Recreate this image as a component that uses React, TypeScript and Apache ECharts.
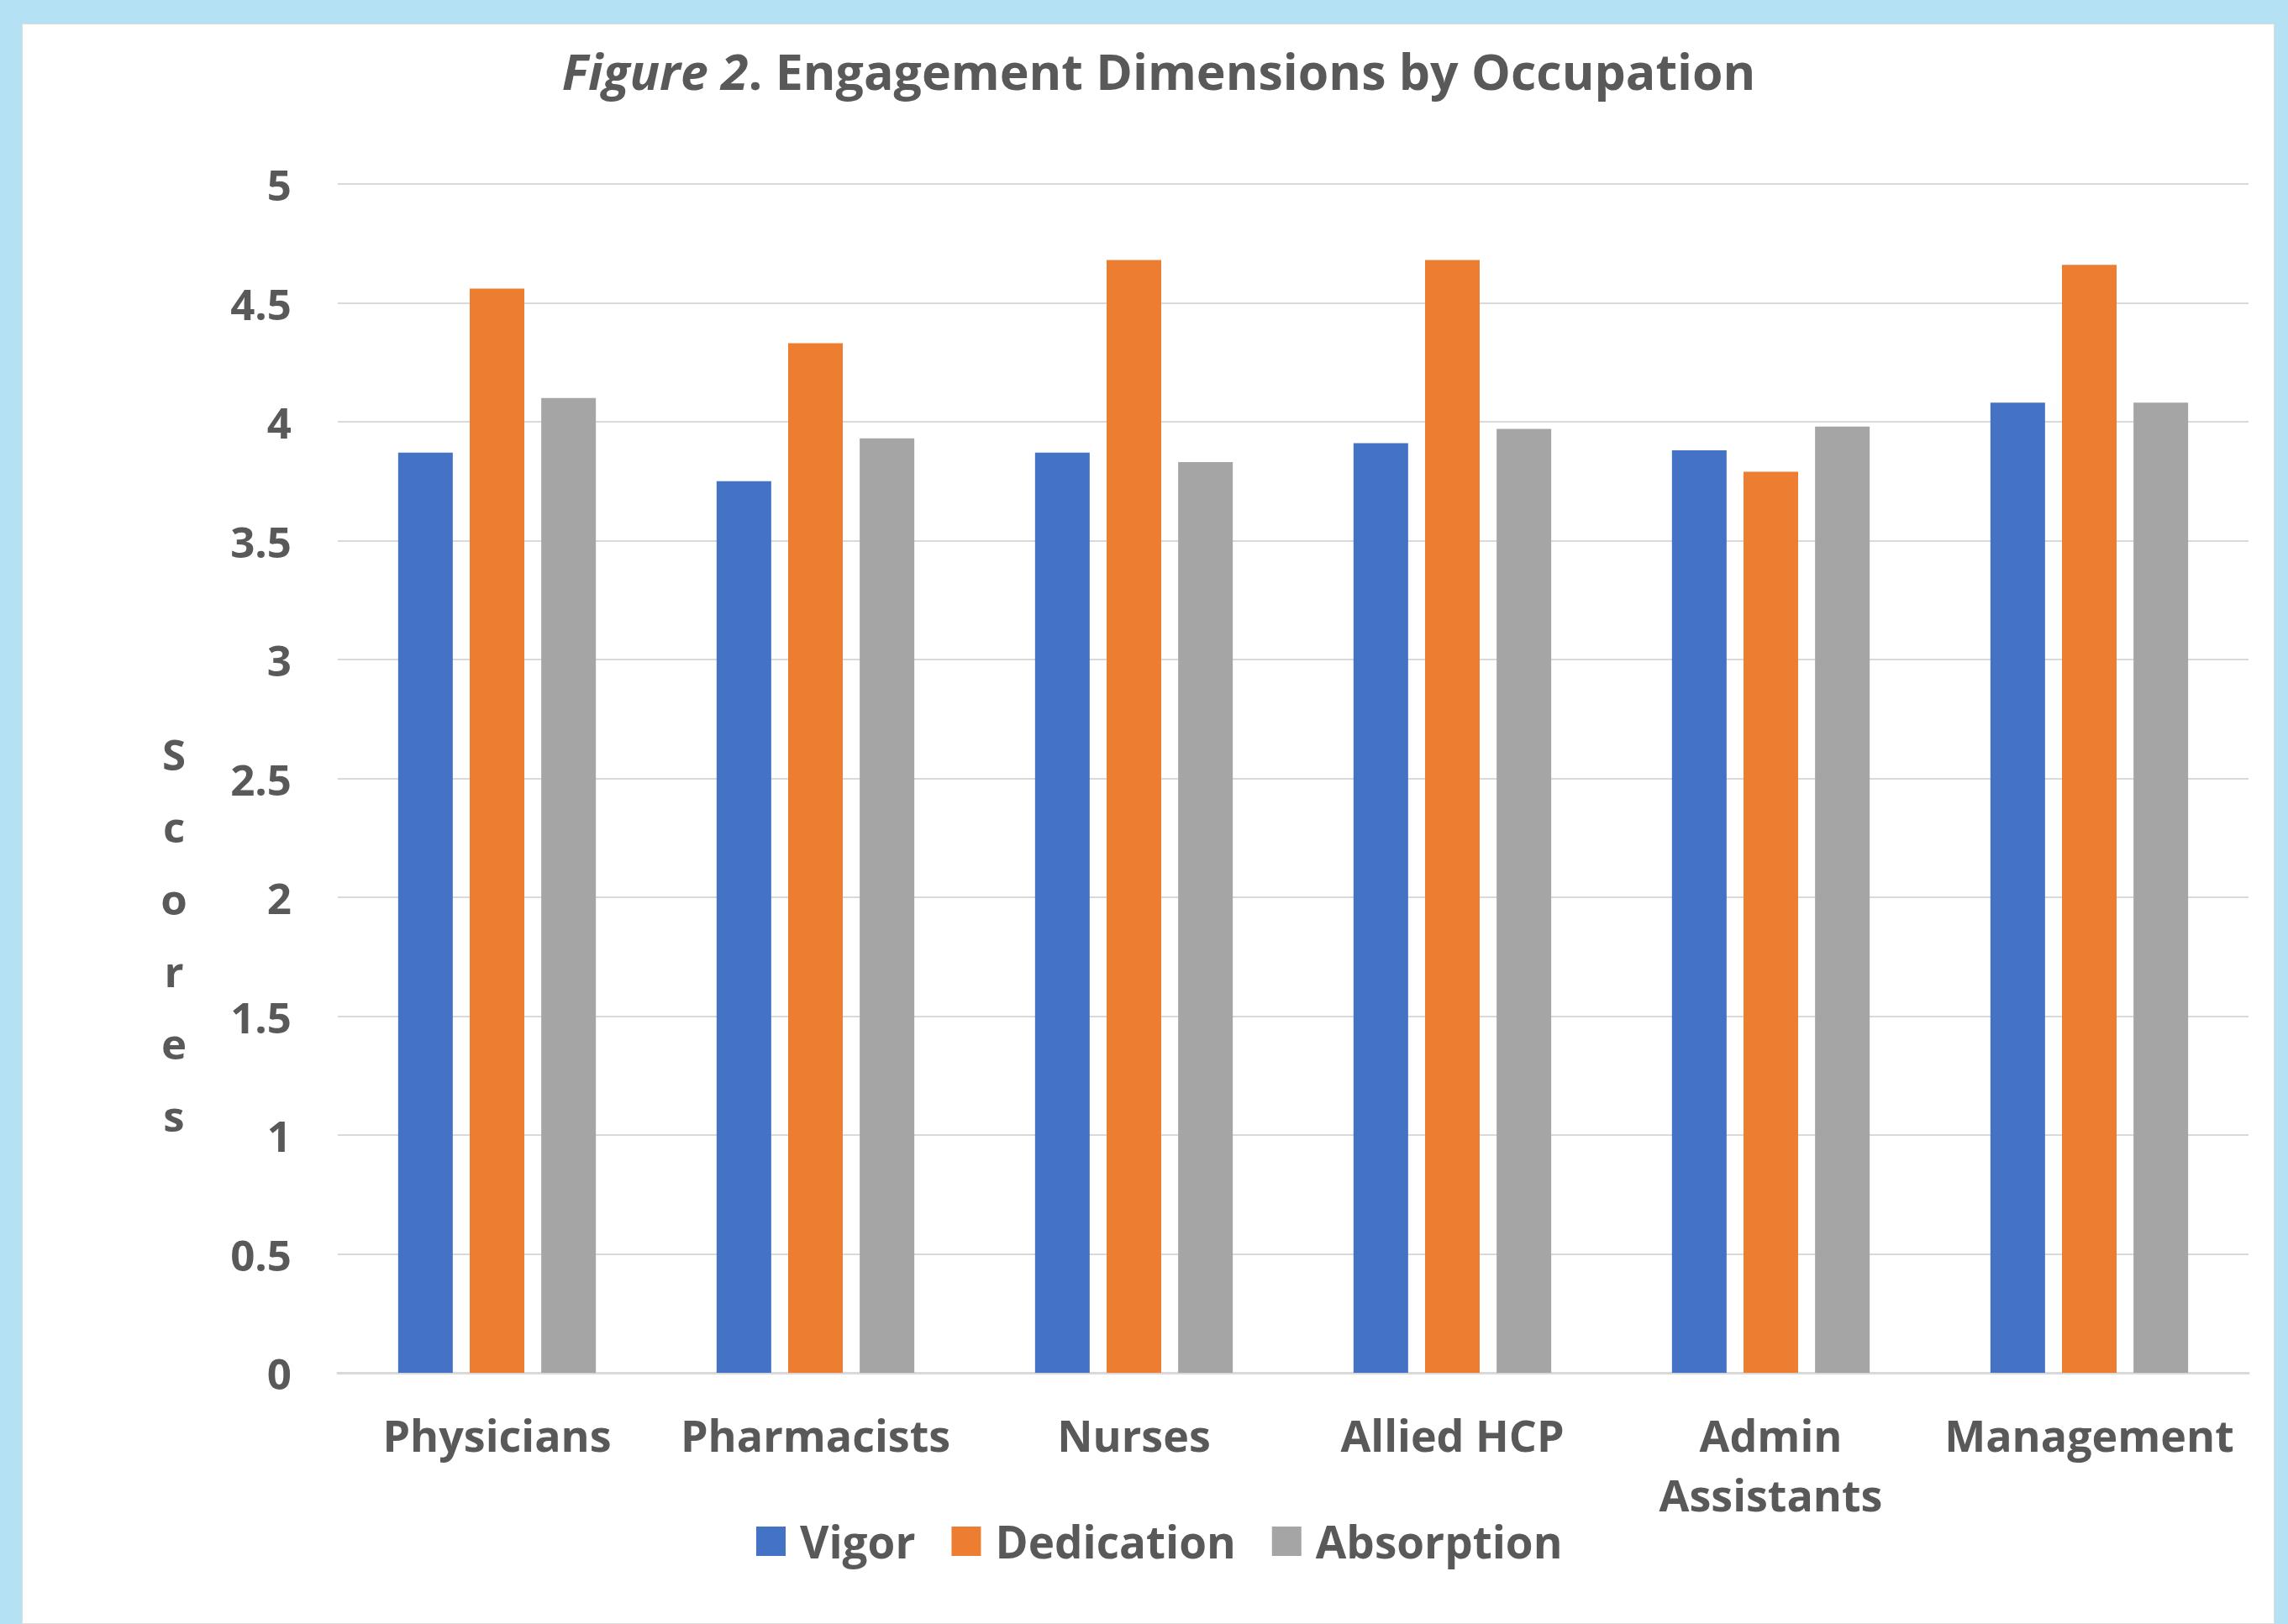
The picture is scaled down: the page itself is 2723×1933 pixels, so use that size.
import React, { useEffect, useRef } from "react";
import * as echarts from "echarts";

const categories = ["Physicians", "Pharmacists", "Nurses", "Allied HCP", "Admin Assistants", "Management"];
const seriesNames = ["Vigor", "Dedication", "Absorption"];
const vigor = [3.87, 3.75, 3.87, 3.91, 3.88, 4.08];
const dedication = [4.56, 4.33, 4.68, 4.68, 3.79, 4.66];
const absorption = [4.1, 3.93, 3.83, 3.97, 3.98, 4.08];
const colors = ["#4472C4", "#ED7D31", "#A5A5A5"];
const yTicks = { min: 0, max: 5, interval: 0.5 };

const FONT = "'Open Sans', 'Noto Sans', sans-serif";
const TEXT = "#595959";

export default function App() {
  const ref = useRef<HTMLDivElement>(null);
  useEffect(() => {
    document.body.style.margin = "0";
    if (!ref.current) return;
    const chart = echarts.init(ref.current, null, { renderer: "svg" });
    const values = [vigor, dedication, absorption];
    chart.setOption({
      animation: false,
      backgroundColor: "transparent",
      textStyle: { fontFamily: FONT },
      title: {
        text: "{i|Figure 2}{b|. Engagement Dimensions by Occupation}",
        left: 1374,
        textAlign: "center",
        top: 44,
        textStyle: {
          rich: {
            i: { fontFamily: FONT, fontSize: 59, fontStyle: "italic", fontWeight: "bold", color: TEXT, lineHeight: 70 },
            b: { fontFamily: FONT, fontSize: 59, fontWeight: "bold", color: TEXT, lineHeight: 70 },
          },
        },
      },
      grid: { left: 402, right: 47, top: 219, bottom: 299, containLabel: false },
      legend: {
        data: seriesNames,
        left: 1378,
        top: 1803,
        orient: "horizontal",
        itemWidth: 35,
        itemHeight: 35,
        itemGap: 43,
        icon: "rect",
        textStyle: {
          fontFamily: FONT,
          fontSize: 53,
          fontWeight: "bold",
          color: TEXT,
          lineHeight: 35,
          padding: [0, 0, 0, 12],
        },
      },
      xAxis: {
        type: "category",
        data: categories,
        axisTick: { show: false },
        axisLine: { lineStyle: { color: "#d9d9d9", width: 3 } },
        axisLabel: {
          interval: 0,
          margin: 38,
          fontFamily: FONT,
          fontSize: 52,
          fontWeight: "bold",
          color: TEXT,
          lineHeight: 71,
          formatter: (v: string) => (v === "Admin Assistants" ? "Admin\nAssistants" : v),
        },
      },
      yAxis: {
        type: "value",
        min: yTicks.min,
        max: yTicks.max,
        interval: yTicks.interval,
        axisLine: { show: false },
        axisTick: { show: false },
        splitLine: { lineStyle: { color: "#d9d9d9", width: 2 } },
        axisLabel: {
          margin: 55,
          fontFamily: FONT,
          fontSize: 51,
          fontWeight: "bold",
          color: TEXT,
        },
      },
      graphic: [
        {
          type: "text",
          x: 207,
          y: 1112,
          style: {
            text: "S\nc\no\nr\ne\ns",
            fontFamily: FONT,
            fontSize: 51,
            fontWeight: "bold",
            fill: TEXT,
            lineHeight: 86,
            align: "center",
            verticalAlign: "middle",
          },
        },
      ],
      series: seriesNames.map((name, i) => ({
        name,
        type: "bar",
        data: values[i],
        barWidth: 65,
        barGap: "31%",
        itemStyle: { color: colors[i] },
      })),
    });
    const legendModel: any = (chart as any).getModel().getComponent("legend");
    const view: any = legendModel && (chart as any).getViewOfComponentModel(legendModel);
    if (view && view.group) {
      const rect = view.group.getBoundingRect();
      chart.setOption({ legend: { left: Math.round(1380 - rect.width / 2) } });
    }
    return () => chart.dispose();
  }, []);

  return (
    <div style={{ position: "relative", width: 2723, height: 1933, background: "#b4e2f4", overflow: "hidden" }}>
      <div
        style={{
          position: "absolute",
          left: 26,
          top: 28,
          width: 2707 - 26,
          height: 1933 - 28,
          background: "#ffffff",
          boxSizing: "border-box",
          border: "1px solid #dcdcdc",
        }}
      />
      <div ref={ref} style={{ position: "absolute", left: 0, top: 0, width: 2723, height: 1933 }} />
    </div>
  );
}
